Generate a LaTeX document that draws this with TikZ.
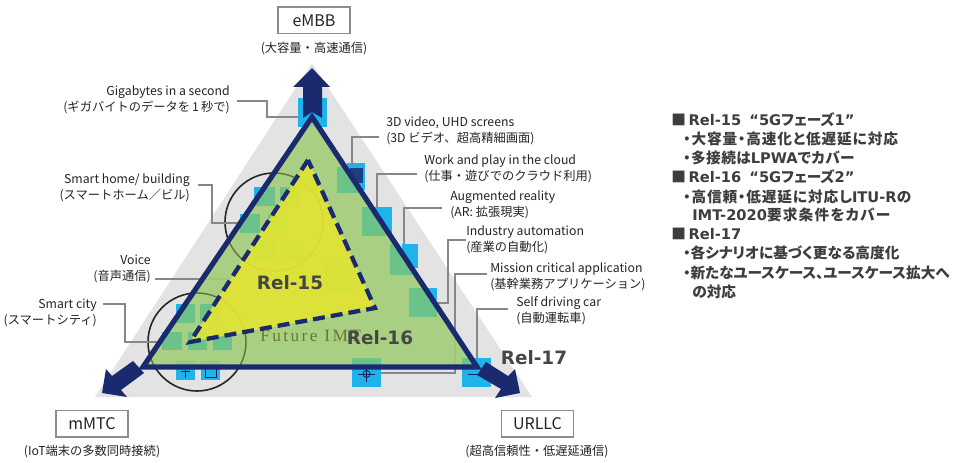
\documentclass[tikz,border=0pt]{standalone}
\usepackage{fontspec}
\setmainfont{Noto Sans CJK JP}
\newfontfamily\serifcap{Liberation Serif}
\newfontfamily\panelcjk[RawFeature=+palt]{Noto Sans CJK JP}
\newfontfamily\widelatin{DejaVu Sans}
\newcommand{\pl}[1]{{\widelatin\bfseries #1}}
\definecolor{navy}{RGB}{27,42,110}
\definecolor{greytri}{RGB}{227,227,228}
\definecolor{cyanbox}{RGB}{30,180,235}
\definecolor{tealbox}{RGB}{108,195,138}
\definecolor{greentri}{RGB}{163,207,120}
\definecolor{yellowtri}{RGB}{226,229,50}
\definecolor{leaderc}{RGB}{135,135,138}
\definecolor{txt}{RGB}{35,35,35}
\definecolor{relc}{RGB}{70,70,70}
\tikzset{
  lab/.style={font=\fontsize{9.2pt}{12pt}\selectfont, text=txt, inner sep=0pt},
  labL/.style={lab, anchor=west, align=left},
  labR/.style={lab, anchor=east, align=right},
  catbox/.style={draw=black!45, line width=0.8pt, fill=white, minimum width=54pt, minimum height=20.2pt, inner sep=0pt, text=txt, font=\fontsize{12pt}{14pt}\selectfont},
  catsub/.style={lab},
  leader/.style={draw=leaderc, line width=1.3pt},
  relname/.style={font=\fontsize{13.8pt}{16pt}\widelatin\bfseries, text=relc, inner sep=0pt},
  panel/.style={font=\fontsize{11pt}{13pt}\panelcjk\bfseries, text=black!76, inner sep=0pt, anchor=west},
  navyline/.style={draw=navy, line width=3.9pt, line join=miter},
  dashline/.style={draw=navy, line width=3.2pt, dash pattern=on 9pt off 4.5pt},
  ringc/.style={draw=black!85, line width=1.2pt},
  icon/.style={draw=navy!80!black, line width=0.7pt},
}
\begin{document}
\begin{tikzpicture}[x=0.75pt,y=-0.75pt]
\useasboundingbox (0,0) rectangle (960,463);
% grey backing triangle
\fill[greytri] (312,63) -- (95,397) -- (532,397) -- cycle;
% rings
\draw[ringc] (274,222) circle (49);
\draw[ringc] (197,342) circle (49);
% blue squares
\foreach \xa/\ya/\xb/\yb in {
  298/98/327/127, 347/163/365/190, 373/207/392/233, 402/244/418/268,
  428/288/437/300, 352/358/381/387, 462/358/491/387,
  254/187/275/206, 240/214/260/233, 176/304/195/323, 162/332/182/350,
  176/361/195/380, 201/361/220/380}
  \fill[cyanbox] (\xa,\ya) rectangle (\xb,\yb);
\fill[navy!85!cyanbox] (350,168) rectangle (363,183);
% icons on the blue parts
\draw[icon] (366.5,366) -- (366.5,382) (358,374) -- (375,374);
\draw[icon] (366.5,374) circle (3.5);
\draw[icon] (468,374) -- (485,374);
\draw[icon] (185.5,370) -- (185.5,378) (181,371) -- (190,371);
\draw[icon] (205,368) rectangle (216,377);
% leader lines
\coordinate (l1) at (237,101);  \coordinate (e1) at (298,117);
\coordinate (l2) at (198,185);  \coordinate (e2) at (240,223);
\coordinate (l3) at (155,279);  \coordinate (e3) at (246,279);
\coordinate (l4) at (103,304);  \coordinate (e4) at (162,342);
\coordinate (l5) at (379,137);  \coordinate (e5) at (352,165);
\coordinate (l6) at (417,174);  \coordinate (e6) at (377,207);
\coordinate (l7) at (442,208);  \coordinate (e7) at (404,244);
\coordinate (l8) at (466,240);  \coordinate (e8) at (437,303);
\coordinate (l9) at (487,274);  \coordinate (e9) at (381,373);
\coordinate (l10) at (508,309); \coordinate (e10) at (477,358);
\draw[leader] (l1) -- (267,101) -- (267,117) -- (e1);
\draw[leader] (l2) -- (212,185) -- (212,223) -- (e2);
\draw[leader] (l3) -- (e3);
\draw[leader] (l4) -- (125,304) -- (125,342) -- (e4);
\draw[leader] (l5) -- (352,137) -- (e5);
\draw[leader] (l6) -- (377,174) -- (e6);
\draw[leader] (l7) -- (404,208) -- (e7);
\draw[leader] (l8) -- (448,240) -- (448,303) -- (e8);
\draw[leader] (l9) -- (455,274) -- (455,373) -- (e9);
\draw[leader] (l10) -- (477,309) -- (e10);
% green release
\fill[greentri, fill opacity=0.9] (312,117) -- (143,367) -- (477,367) -- cycle;
\begin{scope}
  \clip (312,117) -- (143,367) -- (477,367) -- cycle;
  \foreach \xa/\ya/\xb/\yb in {
    337/167/360/193, 362/207/388/236, 390/244/415/275, 409/288/437/317,
    352/358/381/387, 462/358/491/387,
    254/187/275/206, 280/187/301/206, 240/214/260/233, 268/215/287/233,
    253/240/275/260, 282/240/303/260, 325/263/353/292,
    176/304/195/323, 200/304/220/323, 162/332/182/350, 188/332/207/350, 213/332/232/350}
    \fill[tealbox] (\xa,\ya) rectangle (\xb,\yb);
  \draw[draw=black!50!olive, line width=1pt, draw opacity=0.75] (274,222) circle (49) (197,342) circle (49);
  \node[inner sep=0pt, anchor=west, text=black!40!olive!75!green, font=\fontsize{13pt}{15pt}\serifcap] (futureimt) at (260,336) {\addfontfeature{LetterSpace=14}Future IMT};
\end{scope}
% yellow release
\fill[yellowtri, fill opacity=0.9] (308,160) -- (190,342) -- (375,308) -- cycle;
% outlines
\draw[dashline] (308,160) -- (190,342) -- (375,308) -- cycle;
\draw[navyline] (312,117) -- (143,367) -- (477,367) -- cycle;
% arrows
\fill[navy] (303,118) -- (303,87) -- (293,87) -- (312,68) -- (330,87) -- (322,87) -- (322,118) -- (312,112) -- cycle;
\fill[navy] (102,393) -- (106,369) -- (112,376) -- (133,361) -- (144,373) -- (121,390) -- (127,397) -- cycle;
\fill[navy] (520,393) -- (515,369) -- (508,376) -- (486,362) -- (477,375) -- (501,389) -- (495,398) -- cycle;
% category boxes
\node[catbox] (embb) at (314,20.5) {eMBB};
\node[catsub] (embbsub) at (314,49) {(大容量・高速通信)};
\node[catbox] (mmtc) at (92,423.5) {mMTC};
\node[catsub] (mmtcsub) at (92,452) {(IoT端末の多数同時接続)};
\node[catbox] (urllc) at (537.5,423.5) {URLLC};
\node[catsub] (urllcsub) at (537,452) {(超高信頼性・低遅延通信)};
% labels
\node[labR] (giga) at (230,100) {Gigabytes in a second\\(ギガバイトのデータを\,1\,秒で)};
\node[labR] (home) at (190,188) {Smart home/ building\\(スマートホーム／ビル)};
\node[labR] (voice) at (151,269) {Voice\\(音声通信)};
\node[labR] (city) at (97,313) {Smart city\\(スマートシティ)};
\node[labL] (video) at (386,131) {3D video, UHD screens\\(3D ビデオ、超高精細画面)};
\node[labL] (work) at (424,169) {Work and play in the cloud\\(仕事・遊びでのクラウド利用)};
\node[labL] (ar) at (450,205) {Augmented reality\\(AR: 拡張現実)};
\node[labL] (ind) at (466,240) {Industry automation\\(産業の自動化)};
\node[labL] (mission) at (490,277) {Mission critical application\\(基幹業務アプリケーション)};
\node[labL] (drive) at (516,311) {Self driving car\\(自動運転車)};
% release names
\node[relname] (r15) at (290,283) {Rel-15};
\node[relname] (r16) at (380,338) {Rel-16};
\node[relname] (r17) at (534,358) {Rel-17};
% side panel
\node[panel] (p1) at (671,120) {■\hspace{2pt}\pl{Rel-15}\hspace{6pt}\pl{“5G}フェーズ\pl{1”}};
\node[panel] (p2) at (683,139) {\addfontfeature{LetterSpace=6}・大容量・高速化と低遅延に対応};
\node[panel] (p3) at (683,158) {\addfontfeature{LetterSpace=3}・多接続は\pl{LPWA}でカバー};
\node[panel] (p4) at (671,177) {■\hspace{2pt}\pl{Rel-16}\hspace{6pt}\pl{“5G}フェーズ\pl{2”}};
\node[panel] (p5) at (683,197) {\addfontfeature{LetterSpace=6}・高信頼・低遅延に対応し\pl{ITU-R}の};
\node[panel] (p6) at (692,215) {\pl{IMT-2020}\addfontfeature{LetterSpace=8}要求条件をカバー};
\node[panel] (p7) at (671,234) {■\hspace{2pt}\pl{Rel-17}};
\node[panel] (p8) at (683,253) {・各シナリオに基づく更なる高度化};
\node[panel] (p9) at (683,273) {・新たなユースケース、ユースケース拡大へ};
\node[panel] (p10) at (692,292) {の対応};
\end{tikzpicture}
\end{document}
